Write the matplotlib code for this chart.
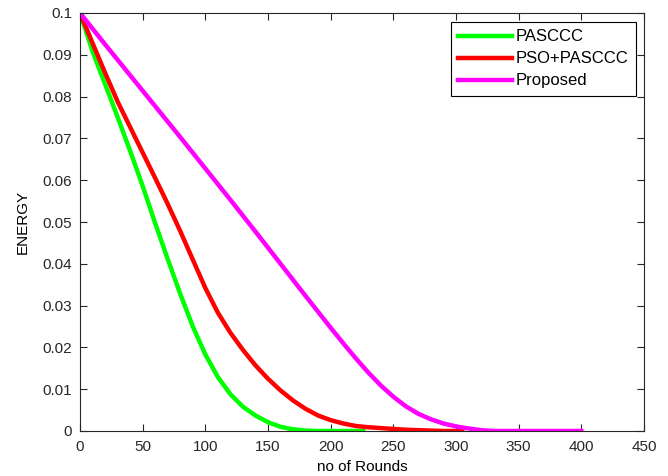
import matplotlib
matplotlib.use("Agg")
import matplotlib.pyplot as plt

rounds_pasccc = [0, 10, 20, 30, 40, 50, 60, 70, 80, 90, 100, 110, 120, 130, 140, 150, 160, 170, 180, 190, 226]
energy_pasccc = [0.1, 0.0908, 0.0830, 0.0751, 0.0670, 0.0586, 0.0497, 0.0411, 0.0328, 0.0250, 0.0183,
                 0.0129, 0.0088, 0.0058, 0.0037, 0.0021, 0.0010, 0.0004, 0.0001, 0.0, 0.0]

rounds_pso = [0, 10, 20, 30, 40, 50, 60, 70, 80, 90, 100, 110, 120, 130, 140, 150, 160, 170, 180, 190,
              200, 210, 220, 230, 240, 250, 260, 270, 280, 290, 305]
energy_pso = [0.1, 0.0928, 0.0857, 0.0788, 0.0727, 0.0666, 0.0605, 0.0543, 0.0478, 0.0410, 0.0342,
              0.0283, 0.0235, 0.0194, 0.0157, 0.0125, 0.0097, 0.0073, 0.0053, 0.0037, 0.0026,
              0.0018, 0.0012, 0.0009, 0.0007, 0.0005, 0.0003, 0.0002, 0.0001, 0.0, 0.0]

rounds_prop = [0, 20, 40, 60, 80, 100, 120, 140, 160, 180, 200, 210, 220, 230, 240, 250, 260, 270,
               280, 290, 300, 310, 320, 330, 400]
energy_prop = [0.1, 0.0925, 0.0851, 0.0777, 0.0703, 0.0628, 0.0553, 0.0477, 0.0400, 0.0323, 0.0247,
               0.0210, 0.0174, 0.0140, 0.0109, 0.0082, 0.0059, 0.0041, 0.0028, 0.0018, 0.0011,
               0.0006, 0.0002, 0.0, 0.0]

labels = ["PASCCC", "PSO+PASCCC", "Proposed"]
colors = ["#00ff00", "#ff0000", "#ff00ff"]

plt.rcParams['font.family'] = ['Liberation Sans', 'DejaVu Sans']
FS = 11
fig = plt.figure(figsize=(6.68, 4.76), dpi=100)
ax = fig.add_axes([80/668, 45/476, 564/668, 418/476])

ax.plot(rounds_pasccc, energy_pasccc, color=colors[0], lw=3.2, label=labels[0])
ax.plot(rounds_pso, energy_pso, color=colors[1], lw=3.2, label=labels[1])
ax.plot(rounds_prop, energy_prop, color=colors[2], lw=3.2, label=labels[2])

ax.set_xlim(0, 450)
ax.set_ylim(0, 0.1)
ax.set_xticks(range(0, 451, 50))
ax.set_yticks([i / 100 for i in range(0, 11)])
ax.set_yticklabels(["0"] + ["%g" % (i / 100) for i in range(1, 11)])
ax.tick_params(direction='in', length=5, width=0.8, top=True, right=True,
               labelsize=FS, colors='#262626')
ax.tick_params(axis='x', pad=6.5)
ax.tick_params(axis='y', pad=5.5)
for s in ax.spines.values():
    s.set_color('#262626')
    s.set_linewidth(0.8)
ax.set_xlabel("no of Rounds", fontsize=FS, labelpad=4)
ax.set_ylabel("ENERGY", fontsize=FS, labelpad=9)

leg = ax.legend(loc='upper right', bbox_to_anchor=(0.9858, 0.9785), fontsize=12,
                fancybox=False, edgecolor='black', framealpha=1, handlelength=3.2,
                handletextpad=0.25, labelspacing=0.42, borderpad=0.45, borderaxespad=0)
leg.get_frame().set_linewidth(0.8)

fig.savefig("out.png", dpi=100)
